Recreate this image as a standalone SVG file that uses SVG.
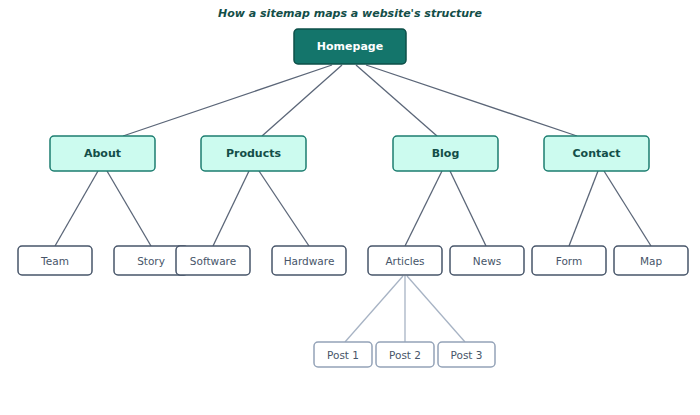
<svg xmlns="http://www.w3.org/2000/svg" width="700" height="415" viewBox="0 0 700 415">
<style>
.t{font-family:"DejaVu Sans",sans-serif;text-anchor:middle;dominant-baseline:central}
.root rect{fill:#14756b;stroke:#0d4f48;stroke-width:1.5}
.root text{fill:#fff;font-size:11px;font-weight:bold}
.sec rect{fill:#ccfbef;stroke:#1c7d70;stroke-width:1.5}
.sec text{fill:#134e48;font-size:11px;font-weight:bold}
.leaf rect{fill:#fff;stroke:#475569;stroke-width:1.5}
.leaf text{fill:#475569;font-size:10.5px}
.post rect{fill:#fff;stroke:#94a3b8;stroke-width:1.5}
.post text{fill:#475569;font-size:10.5px}
#edges line{stroke:#5b6678;stroke-width:1.3}
#edges line.l{stroke:#a7b3c4}
</style>
<rect width="700" height="415" fill="#fff"/>
<text class="t" x="350" y="13" style="font-size:11px;font-weight:bold;font-style:italic;fill:#134e48">How a sitemap maps a website's structure</text>
<g id="edges">
<line x1="332" y1="65" x2="123" y2="136"/>
<line x1="342" y1="65" x2="262" y2="136"/>
<line x1="356" y1="65" x2="437" y2="136"/>
<line x1="366" y1="65" x2="577" y2="136"/>
<line x1="98" y1="171" x2="55" y2="246"/>
<line x1="107" y1="171" x2="151" y2="246"/>
<line x1="249" y1="171" x2="213" y2="246"/>
<line x1="259" y1="171" x2="309" y2="246"/>
<line x1="442" y1="171" x2="405" y2="246"/>
<line x1="450" y1="171" x2="486" y2="246"/>
<line x1="598" y1="171" x2="569" y2="246"/>
<line x1="604" y1="171" x2="651" y2="246"/>
<line class="l" x1="403" y1="276" x2="345" y2="342"/>
<line class="l" x1="405" y1="276" x2="405" y2="342"/>
<line class="l" x1="407" y1="276" x2="465" y2="342"/>
</g>
<g id="homepage" class="root"><rect x="294" y="29" width="112" height="35" rx="4"/><text class="t" x="350" y="46.5">Homepage</text></g>
<g id="about" class="sec"><rect x="50" y="136" width="105" height="35" rx="4"/><text class="t" x="102.5" y="153.5">About</text></g>
<g id="products" class="sec"><rect x="201" y="136" width="105" height="35" rx="4"/><text class="t" x="253.5" y="153.5">Products</text></g>
<g id="blog" class="sec"><rect x="393" y="136" width="105" height="35" rx="4"/><text class="t" x="445.5" y="153.5">Blog</text></g>
<g id="contact" class="sec"><rect x="544" y="136" width="105" height="35" rx="4"/><text class="t" x="596.5" y="153.5">Contact</text></g>
<g id="team" class="leaf"><rect x="18" y="246" width="74" height="29" rx="4"/><text class="t" x="55" y="260.5">Team</text></g>
<g id="story" class="leaf"><rect x="114" y="246" width="74" height="29" rx="4"/><text class="t" x="151" y="260.5">Story</text></g>
<g id="software" class="leaf"><rect x="176" y="246" width="74" height="29" rx="4"/><text class="t" x="213" y="260.5">Software</text></g>
<g id="hardware" class="leaf"><rect x="272" y="246" width="74" height="29" rx="4"/><text class="t" x="309" y="260.5">Hardware</text></g>
<g id="articles" class="leaf"><rect x="368" y="246" width="74" height="29" rx="4"/><text class="t" x="405" y="260.5">Articles</text></g>
<g id="news" class="leaf"><rect x="450" y="246" width="74" height="29" rx="4"/><text class="t" x="487" y="260.5">News</text></g>
<g id="form" class="leaf"><rect x="532" y="246" width="74" height="29" rx="4"/><text class="t" x="569" y="260.5">Form</text></g>
<g id="map" class="leaf"><rect x="614" y="246" width="74" height="29" rx="4"/><text class="t" x="651" y="260.5">Map</text></g>
<g id="post1" class="post"><rect x="314" y="342" width="58" height="25" rx="4"/><text class="t" x="343" y="354.5">Post 1</text></g>
<g id="post2" class="post"><rect x="376" y="342" width="58" height="25" rx="4"/><text class="t" x="405" y="354.5">Post 2</text></g>
<g id="post3" class="post"><rect x="438" y="342" width="57" height="25" rx="4"/><text class="t" x="466.5" y="354.5">Post 3</text></g>
</svg>
